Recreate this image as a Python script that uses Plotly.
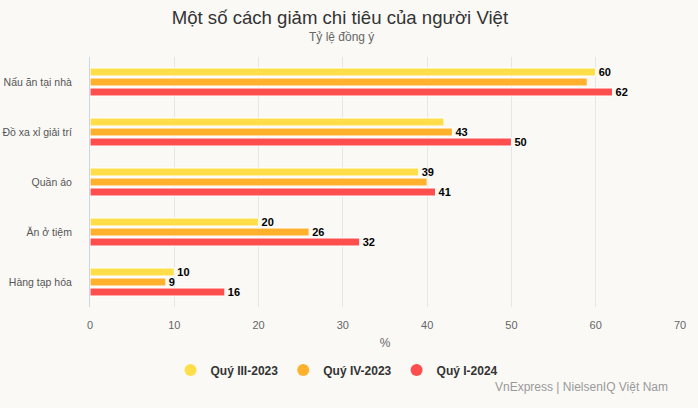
import plotly.graph_objects as go

categories = ['Nấu ăn tại nhà', 'Đồ xa xỉ giải trí', 'Quần áo', 'Ăn ở tiệm', 'Hàng tạp hóa']
series_names = ['Quý III-2023', 'Quý IV-2023', 'Quý I-2024']
q3_2023 = [60, 42, 39, 20, 10]
q4_2023 = [59, 43, 40, 26, 9]
q1_2024 = [62, 50, 41, 32, 16]
# which data labels are visible in the original (overlapping ones hidden)
show_label = [
    [True, False, True, True, True],
    [False, True, False, True, True],
    [True, True, True, True, True],
]
x_ticks = [0, 10, 20, 30, 40, 50, 60, 70]

colors = ['#FFDE4A', '#FFB12E', '#FF4E4E']
BG = '#FAF9F6'
FONT = 'Arial, Liberation Sans, sans-serif'

fig = go.Figure()
for i, (name, vals) in enumerate(zip(series_names, [q3_2023, q4_2023, q1_2024])):
    labels = [str(v) if s else '' for v, s in zip(vals, show_label[i])]
    fig.add_trace(go.Bar(
        y=categories, x=vals, name=name, orientation='h', showlegend=False,
        marker=dict(color=colors[i], line=dict(color='white', width=1)),
        text=labels, textposition='outside', cliponaxis=False, constraintext='none',
        textfont=dict(family=FONT, size=11, color='black', weight='bold'),
    ))
# legend entries with round symbols
for i, name in enumerate(series_names):
    fig.add_trace(go.Scatter(
        x=[None], y=[None], name=name, mode='markers',
        marker=dict(symbol='circle', size=11, color=colors[i]),
    ))

fig.update_layout(
    width=698, height=408,
    paper_bgcolor=BG, plot_bgcolor=BG,
    font=dict(family=FONT, color='#333333'),
    margin=dict(l=90, r=18, t=57, b=101),
    barmode='group', bargap=0.4, bargroupgap=0.2,
    title=dict(text='Một số cách giảm chi tiêu của người Việt', xref='container', x=0.487,
               xanchor='center', y=0.958, yanchor='middle', font=dict(size=18.6, color='#333333')),
    legend=dict(orientation='h', x=0.1365, xanchor='left', y=-0.194, yanchor='top',
                font=dict(size=12, color='#333333', weight='bold'), itemsizing='constant',
                traceorder='normal', itemwidth=30),
    annotations=[
        dict(text='Tỷ lệ đồng ý', xref='paper', yref='paper', x=(341 - 90) / 590, y=1.0, yshift=20,
             xanchor='center', yanchor='middle', showarrow=False,
             font=dict(size=12, color='#666666')),
        dict(text='VnExpress | NielsenIQ Việt Nam', xref='paper', yref='paper', x=1.0, y=0,
             xshift=-10, yshift=-80, xanchor='right', yanchor='middle', showarrow=False,
             font=dict(size=12, color='#999999')),
    ],
)
fig.update_xaxes(range=[0, 70], tickvals=x_ticks, showgrid=True, gridcolor='#E6E6E6',
                 zeroline=False, showline=False, tickfont=dict(size=11, color='#666666'),
                 ticks='', ticklabelstandoff=10, automargin=False,
                 title=dict(text='%', font=dict(size=12, color='#666666'), standoff=8))
fig.update_yaxes(autorange='reversed', showline=True, linecolor='#CCD6EB', linewidth=1,
                 showgrid=False, ticks='', tickfont=dict(size=10.5, color='#555555'),
                 ticklabelstandoff=15, automargin=False)

# remove the default page margin so the chart fills the window
fig.write_html('out.html', config={'displayModeBar': False},
               post_script=f"document.body.style.margin='0';document.body.style.background='{BG}';")
